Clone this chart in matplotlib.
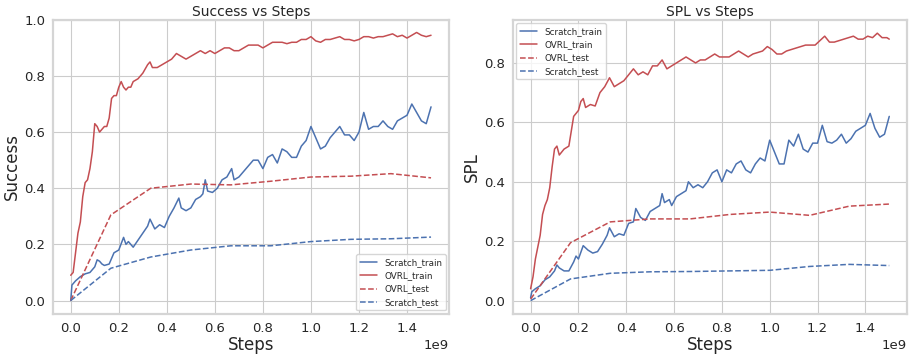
import matplotlib
matplotlib.use("Agg")
import matplotlib.pyplot as plt
import seaborn as sns

sns.set_style("whitegrid")

BLUE = "#4C72B0"
RED = "#C44E52"

# test curves (evaluated every ~1.67e8 steps)
test_steps = [0.0, 0.167, 0.333, 0.5, 0.667, 0.833, 1.0, 1.167, 1.333, 1.5]
ovrl_test_success = [0.0, 0.305, 0.40, 0.415, 0.412, 0.425, 0.44, 0.443, 0.452, 0.437]
scratch_test_success = [0.0, 0.115, 0.155, 0.18, 0.195, 0.195, 0.21, 0.218, 0.22, 0.226]
ovrl_test_spl = [0.005, 0.195, 0.265, 0.275, 0.275, 0.29, 0.298, 0.287, 0.318, 0.325]
scratch_test_spl = [0.0, 0.073, 0.092, 0.097, 0.098, 0.1, 0.102, 0.115, 0.122, 0.118]

# OVRL train, success
ovrl_succ_x = [0.0, 0.01, 0.02, 0.03, 0.04, 0.05, 0.06, 0.07, 0.08, 0.09, 0.10,
               0.11, 0.12, 0.13, 0.14, 0.15, 0.16, 0.17, 0.18, 0.19, 0.20, 0.21,
               0.22, 0.23, 0.24, 0.25, 0.26, 0.28, 0.30, 0.32, 0.33, 0.34, 0.36,
               0.38, 0.40, 0.42, 0.44, 0.46, 0.48, 0.50, 0.52, 0.54, 0.56, 0.58,
               0.60, 0.62, 0.64, 0.66, 0.68, 0.70, 0.72, 0.74, 0.76, 0.78, 0.80,
               0.82, 0.84, 0.86, 0.88, 0.90, 0.92, 0.94, 0.96, 0.98, 1.00, 1.02,
               1.04, 1.06, 1.08, 1.10, 1.12, 1.14, 1.16, 1.18, 1.20, 1.22, 1.24,
               1.26, 1.28, 1.30, 1.32, 1.34, 1.36, 1.38, 1.40, 1.42, 1.44, 1.46,
               1.48, 1.50]
ovrl_succ_y = [0.09, 0.10, 0.17, 0.24, 0.28, 0.37, 0.42, 0.43, 0.47, 0.53, 0.63,
               0.62, 0.60, 0.61, 0.62, 0.62, 0.65, 0.72, 0.73, 0.73, 0.76, 0.78,
               0.76, 0.75, 0.76, 0.76, 0.78, 0.79, 0.81, 0.84, 0.85, 0.83, 0.83,
               0.84, 0.85, 0.86, 0.88, 0.87, 0.86, 0.87, 0.88, 0.89, 0.88, 0.89,
               0.88, 0.89, 0.90, 0.90, 0.89, 0.89, 0.90, 0.91, 0.91, 0.91, 0.90,
               0.91, 0.92, 0.92, 0.92, 0.915, 0.92, 0.92, 0.93, 0.93, 0.94, 0.925,
               0.92, 0.93, 0.93, 0.935, 0.94, 0.93, 0.93, 0.925, 0.93, 0.94, 0.94,
               0.935, 0.94, 0.94, 0.945, 0.95, 0.94, 0.945, 0.935, 0.945, 0.955, 0.945,
               0.94, 0.945]

# Scratch train, success
scratch_succ_x = [0.0, 0.005, 0.02, 0.04, 0.06, 0.08, 0.10, 0.11, 0.12, 0.13, 0.14,
                  0.16, 0.18, 0.20, 0.22, 0.23, 0.24, 0.26, 0.28, 0.30, 0.32, 0.33,
                  0.35, 0.37, 0.39, 0.41, 0.43, 0.45, 0.46, 0.48, 0.50, 0.52, 0.54,
                  0.55, 0.56, 0.57, 0.59, 0.61, 0.63, 0.65, 0.67, 0.68, 0.70, 0.72,
                  0.74, 0.76, 0.78, 0.80, 0.82, 0.84, 0.86, 0.88, 0.90, 0.92, 0.94,
                  0.96, 0.98, 1.00, 1.02, 1.04, 1.06, 1.08, 1.10, 1.12, 1.14, 1.16,
                  1.18, 1.20, 1.22, 1.24, 1.26, 1.28, 1.30, 1.32, 1.34, 1.36, 1.38,
                  1.40, 1.42, 1.44, 1.46, 1.48, 1.50]
scratch_succ_y = [0.0, 0.055, 0.07, 0.085, 0.095, 0.10, 0.12, 0.145, 0.14, 0.13, 0.125,
                  0.13, 0.17, 0.18, 0.225, 0.20, 0.21, 0.19, 0.215, 0.24, 0.265, 0.29,
                  0.255, 0.27, 0.26, 0.30, 0.33, 0.365, 0.33, 0.32, 0.33, 0.36, 0.37,
                  0.38, 0.43, 0.39, 0.385, 0.40, 0.43, 0.44, 0.47, 0.43, 0.44, 0.46,
                  0.48, 0.50, 0.50, 0.47, 0.51, 0.52, 0.49, 0.54, 0.53, 0.51, 0.51,
                  0.55, 0.57, 0.62, 0.58, 0.54, 0.55, 0.58, 0.60, 0.62, 0.59, 0.59,
                  0.57, 0.60, 0.67, 0.61, 0.62, 0.62, 0.64, 0.62, 0.61, 0.64, 0.65,
                  0.66, 0.70, 0.67, 0.64, 0.63, 0.69]

# OVRL train, SPL
ovrl_spl_x = [0.0, 0.01, 0.02, 0.03, 0.04, 0.05, 0.06, 0.07, 0.08, 0.09, 0.10,
              0.11, 0.12, 0.14, 0.16, 0.17, 0.18, 0.19, 0.20, 0.21, 0.22, 0.23,
              0.25, 0.27, 0.29, 0.31, 0.33, 0.35, 0.37, 0.39, 0.41, 0.43, 0.45,
              0.47, 0.49, 0.51, 0.53, 0.55, 0.57, 0.59, 0.61, 0.63, 0.65, 0.67,
              0.69, 0.71, 0.73, 0.75, 0.77, 0.79, 0.81, 0.83, 0.85, 0.87, 0.89,
              0.91, 0.93, 0.95, 0.97, 0.99, 1.01, 1.03, 1.05, 1.07, 1.09, 1.11,
              1.13, 1.15, 1.17, 1.19, 1.21, 1.23, 1.25, 1.27, 1.29, 1.31, 1.33,
              1.35, 1.37, 1.39, 1.41, 1.43, 1.45, 1.47, 1.49, 1.50]
ovrl_spl_y = [0.04, 0.08, 0.14, 0.18, 0.22, 0.29, 0.32, 0.34, 0.38, 0.45, 0.51,
              0.52, 0.49, 0.51, 0.52, 0.57, 0.62, 0.63, 0.64, 0.67, 0.68, 0.65,
              0.66, 0.655, 0.70, 0.72, 0.75, 0.72, 0.73, 0.74, 0.76, 0.78, 0.76,
              0.77, 0.76, 0.79, 0.79, 0.81, 0.78, 0.79, 0.80, 0.81, 0.82, 0.81,
              0.80, 0.81, 0.81, 0.82, 0.83, 0.82, 0.82, 0.82, 0.83, 0.84, 0.83,
              0.82, 0.83, 0.835, 0.84, 0.855, 0.845, 0.83, 0.83, 0.84, 0.845, 0.85,
              0.855, 0.86, 0.86, 0.86, 0.875, 0.89, 0.87, 0.87, 0.875, 0.88, 0.885,
              0.89, 0.88, 0.88, 0.89, 0.885, 0.90, 0.885, 0.885, 0.88]

# Scratch train, SPL
scratch_spl_x = [0.0, 0.005, 0.02, 0.04, 0.06, 0.08, 0.10, 0.11, 0.12, 0.14, 0.16,
                 0.18, 0.19, 0.20, 0.22, 0.24, 0.26, 0.28, 0.30, 0.32, 0.33, 0.35,
                 0.37, 0.39, 0.41, 0.43, 0.44, 0.46, 0.48, 0.50, 0.52, 0.54, 0.55,
                 0.56, 0.58, 0.59, 0.61, 0.63, 0.65, 0.66, 0.68, 0.70, 0.72, 0.74,
                 0.76, 0.78, 0.80, 0.82, 0.84, 0.86, 0.88, 0.90, 0.92, 0.94, 0.96,
                 0.98, 1.00, 1.02, 1.04, 1.06, 1.08, 1.10, 1.12, 1.14, 1.16, 1.18,
                 1.20, 1.22, 1.24, 1.26, 1.28, 1.30, 1.32, 1.34, 1.36, 1.38, 1.40,
                 1.42, 1.44, 1.46, 1.48, 1.50]
scratch_spl_y = [0.01, 0.03, 0.04, 0.05, 0.07, 0.08, 0.10, 0.12, 0.11, 0.10, 0.10,
                 0.13, 0.15, 0.14, 0.185, 0.17, 0.16, 0.165, 0.19, 0.22, 0.245, 0.215,
                 0.225, 0.22, 0.26, 0.265, 0.31, 0.28, 0.27, 0.30, 0.31, 0.32, 0.36,
                 0.33, 0.34, 0.32, 0.35, 0.36, 0.37, 0.40, 0.38, 0.39, 0.38, 0.40,
                 0.43, 0.44, 0.40, 0.44, 0.43, 0.46, 0.47, 0.44, 0.43, 0.46, 0.48,
                 0.47, 0.54, 0.50, 0.46, 0.46, 0.54, 0.52, 0.56, 0.51, 0.50, 0.53,
                 0.53, 0.59, 0.535, 0.53, 0.54, 0.56, 0.53, 0.545, 0.57, 0.58, 0.59,
                 0.63, 0.58, 0.55, 0.56, 0.62]

E9 = 1e9

fig = plt.figure(figsize=(9.09, 3.54), dpi=100)
ax1 = fig.add_axes([0.058, 0.113, 0.436, 0.831])
ax2 = fig.add_axes([0.564, 0.113, 0.434, 0.831])

panels = [
    (ax1, "Success vs Steps", "Success", ovrl_succ_x, ovrl_succ_y, scratch_succ_x, scratch_succ_y,
     ovrl_test_success, scratch_test_success, "lower right"),
    (ax2, "SPL vs Steps", "SPL", ovrl_spl_x, ovrl_spl_y, scratch_spl_x, scratch_spl_y,
     ovrl_test_spl, scratch_test_spl, "upper left"),
]

for ax, title, ylabel, ox, oy, sx, sy, ot, st, loc in panels:
    ax.plot([v * E9 for v in sx], sy, color=BLUE, lw=1.1, label="Scratch_train")
    ax.plot([v * E9 for v in ox], oy, color=RED, lw=1.1, label="OVRL_train")
    ax.plot([v * E9 for v in test_steps], ot, color=RED, lw=1.1, ls="--", label="OVRL_test")
    ax.plot([v * E9 for v in test_steps], st, color=BLUE, lw=1.1, ls="--", label="Scratch_test")
    ax.set_title(title, fontsize=10, pad=3)
    ax.set_xlabel("Steps", fontsize=12, labelpad=1)
    ax.set_ylabel(ylabel, fontsize=12, labelpad=2)
    ax.tick_params(labelsize=9.5, pad=2)
    ax.xaxis.get_offset_text().set_fontsize(9.5)
    for sp in ax.spines.values():
        sp.set_color("#d5d5d5")
        sp.set_linewidth(1.6)
    ax.legend(loc=loc, fontsize=6.3, borderaxespad=0.4)

ax1.set_ylim(-0.048, 1.0)

fig.savefig("out.png", dpi=100)
